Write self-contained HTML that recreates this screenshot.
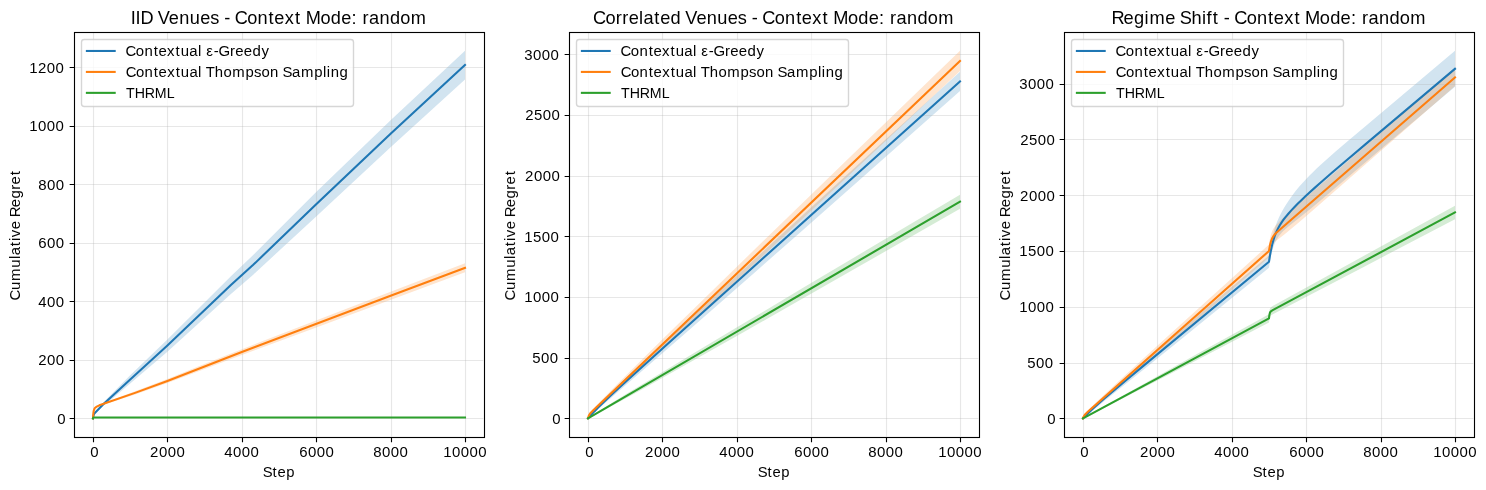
<!DOCTYPE html>
<html lang="en">
<head>
<meta charset="utf-8">
<title>Cumulative Regret - Context Mode: random</title>
<style>
html,body{margin:0;padding:0;background:#fff;}
body{width:1486px;height:490px;overflow:hidden;font-family:"Liberation Sans",sans-serif;}
svg{display:block;}
svg text{font-family:"Liberation Sans",sans-serif;fill:#000;}
</style>
</head>
<body>
<svg width="1486" height="490" viewBox="0 0 1486 490">
<rect width="1486" height="490" fill="#fff"/>
<g id="panel1">
<clipPath id="clip0"><rect x="74.4" y="32.33" width="409.2" height="404.39"/></clipPath>
<g clip-path="url(#clip0)">
<g fill-opacity="0.2" stroke="none">
<path fill="#1f77b4" d="M93 418.34 L93.37 415.91 L94.12 413.4 L96.72 410.1 L103.05 402.86 L111.6 393.96 L130.2 375.35 L167.4 339.38 L230.64 276.39 L252.96 255.29 L316.2 191.97 L390.6 120.32 L465 50.71 L465 79.38 L390.6 147.23 L316.2 216.54 L252.96 274.89 L230.64 294.15 L167.4 351.66 L130.2 383.54 L111.6 399.23 L103.05 406.11 L96.72 411.86 L94.12 413.92 L93.37 416.09 L93 418.34Z"/>
<path fill="#ff7f0e" d="M93 418.34 L93.37 412.93 L93.75 410.53 L94.49 408.26 L94.86 407.71 L96.72 406.19 L99.33 404.75 L105.28 402.44 L113.09 399.49 L135.04 391.36 L167.4 378.88 L201.26 365.31 L241.8 349.14 L258.92 342.52 L319.92 318.96 L390.6 291.74 L465 263.28 L465 272.34 L309.51 329.89 L241.8 354.88 L201.26 370.2 L167.4 382.93 L135.04 394.41 L113.46 401.47 L105.28 404.09 L99.33 405.93 L96.72 407.1 L94.86 408.35 L94.49 408.84 L93.75 410.94 L93.37 413.22 L93 418.34Z"/>
<path fill="#2ca02c" d="M93 418.34 L93.37 417.32 L465 417.32 L465 417.61 L93.37 417.61 L93 418.34Z"/>
</g>
<g stroke="#b0b0b0" stroke-opacity="0.3" stroke-width="1.111" fill="none"><path d="M93.5 32.33V436.72M167.5 32.33V436.72M242.5 32.33V436.72M316.5 32.33V436.72M391.5 32.33V436.72M465.5 32.33V436.72"/><path d="M74.4 418.5H483.6M74.4 360.5H483.6M74.4 301.5H483.6M74.4 243.5H483.6M74.4 184.5H483.6M74.4 126.5H483.6M74.4 67.5H483.6"/></g>
<g fill="none" stroke-width="2.083" stroke-linejoin="round" stroke-linecap="square">
<path stroke="#1f77b4" d="M93 418.34 L93.37 416 L94.12 413.66 L103.05 404.48 L130.2 379.44 L167.4 345.52 L230.64 285.27 L252.96 265.09 L316.2 204.26 L390.6 133.77 L465 65.05"/>
<path stroke="#ff7f0e" d="M93 418.34 L93.37 413.08 L93.75 410.74 L94.49 408.55 L94.86 408.03 L96.72 406.64 L99.33 405.34 L135.04 392.88 L167.4 380.91 L241.8 352.01 L390.6 295.8 L465 267.81"/>
<path stroke="#2ca02c" d="M93 418.34 L93.37 417.46 L465 417.46"/>
</g></g>
<path d="M93.5 437.5v4.86M167.5 437.5v4.86M242.5 437.5v4.86M316.5 437.5v4.86M391.5 437.5v4.86M465.5 437.5v4.86M74.5 418.5h-4.86M74.5 360.5h-4.86M74.5 301.5h-4.86M74.5 243.5h-4.86M74.5 184.5h-4.86M74.5 126.5h-4.86M74.5 67.5h-4.86" stroke="#000" stroke-width="1.111" fill="none"/>
<rect x="74.5" y="32.5" width="410" height="405" fill="none" stroke="#000" stroke-width="1.111" stroke-linejoin="miter"/>
<rect x="81.5" y="39.5" width="272" height="67" rx="2.78" fill="#fff" fill-opacity="0.8" stroke="#ccc" stroke-opacity="0.8" stroke-width="1.389"/>
<path d="M86.9 50.97H114.68" stroke="#1f77b4" stroke-width="2.083" stroke-linecap="square" fill="none"/>
<path d="M86.9 71.92H114.68" stroke="#ff7f0e" stroke-width="2.083" stroke-linecap="square" fill="none"/>
<path d="M86.9 92.86H114.68" stroke="#2ca02c" stroke-width="2.083" stroke-linecap="square" fill="none"/>
<g id="panel2">
<clipPath id="clip1"><rect x="569.4" y="32.33" width="409.2" height="404.39"/></clipPath>
<g clip-path="url(#clip1)">
<g fill-opacity="0.2" stroke="none">
<path fill="#1f77b4" d="M588 418.34 L588.37 417.48 L589.49 415.84 L591.35 413.43 L593.58 410.74 L595.81 408.17 L598.42 405.3 L601.39 402.13 L604.74 398.67 L611.81 391.61 L620.37 383.33 L631.53 372.76 L646.03 359.18 L668.73 338.13 L697 312.05 L729.74 281.96 L766.94 247.87 L854.36 168.03 L960 71.83 L960 91.01 L847.66 190.45 L799.3 233.15 L756.15 271.16 L715.97 306.46 L681.38 336.74 L656.08 358.78 L620.37 389.73 L610.69 398.16 L605.11 403.09 L600.28 407.44 L589.49 417.44 L588.37 418.34 L588 418.34Z"/>
<path fill="#ff7f0e" d="M588 418.34 L588.37 416.53 L588.75 415.34 L589.12 414.41 L589.49 413.65 L590.23 412.44 L590.98 411.43 L592.09 410.11 L593.58 408.46 L600.65 401.03 L611.44 390.04 L625.2 376.25 L642.31 359.28 L666.12 335.83 L694.4 308.14 L727.13 276.21 L764.33 240.04 L852.87 154.23 L960 50.71 L960 71.1 L879.28 146.95 L808.97 212.86 L748.34 269.54 L697.74 316.65 L657.2 354.17 L640.45 369.56 L626.32 382.47 L614.79 392.91 L605.11 401.55 L598.05 407.74 L590.98 413.76 L589.86 414.88 L589.12 415.9 L588.75 416.58 L588 418.34Z"/>
<path fill="#2ca02c" d="M588 418.34 L588.37 417.97 L589.86 416.88 L595.07 413.43 L603.25 408.24 L614.04 401.55 L627.81 393.1 L644.55 382.91 L686.58 357.54 L739.04 326.1 L802.28 288.36 L875.93 244.54 L960 194.66 L960 208.74 L875.93 256.77 L802.28 298.75 L739.04 334.67 L686.58 364.32 L644.55 387.91 L627.81 397.22 L614.04 404.81 L603.25 410.67 L595.07 415.02 L589.86 417.64 L588.37 418.28 L588 418.34Z"/>
</g>
<g stroke="#b0b0b0" stroke-opacity="0.3" stroke-width="1.111" fill="none"><path d="M588.5 32.33V436.72M662.5 32.33V436.72M737.5 32.33V436.72M811.5 32.33V436.72M886.5 32.33V436.72M960.5 32.33V436.72"/><path d="M569.4 418.5H978.6M569.4 358.5H978.6M569.4 297.5H978.6M569.4 236.5H978.6M569.4 176.5H978.6M569.4 115.5H978.6M569.4 54.5H978.6"/></g>
<g fill="none" stroke-width="2.083" stroke-linejoin="round" stroke-linecap="square">
<path stroke="#1f77b4" d="M588 418.34 L590.98 414.99 L594.33 411.4 L598.05 407.59 L602.51 403.2 L606.97 398.93 L612.55 393.71 L627.06 380.45 L665.01 346.29 L960 81.42"/>
<path stroke="#ff7f0e" d="M588 418.34 L588.37 416.99 L588.75 415.96 L589.12 415.16 L589.86 413.95 L590.61 413.01 L591.35 412.2 L593.58 410 L960 60.91"/>
<path stroke="#2ca02c" d="M588 418.34 L960 201.7"/>
</g></g>
<path d="M588.5 437.5v4.86M662.5 437.5v4.86M737.5 437.5v4.86M811.5 437.5v4.86M886.5 437.5v4.86M960.5 437.5v4.86M569.5 418.5h-4.86M569.5 358.5h-4.86M569.5 297.5h-4.86M569.5 236.5h-4.86M569.5 176.5h-4.86M569.5 115.5h-4.86M569.5 54.5h-4.86" stroke="#000" stroke-width="1.111" fill="none"/>
<rect x="569.5" y="32.5" width="410" height="405" fill="none" stroke="#000" stroke-width="1.111" stroke-linejoin="miter"/>
<rect x="576.5" y="39.5" width="272" height="67" rx="2.78" fill="#fff" fill-opacity="0.8" stroke="#ccc" stroke-opacity="0.8" stroke-width="1.389"/>
<path d="M581.9 50.97H609.68" stroke="#1f77b4" stroke-width="2.083" stroke-linecap="square" fill="none"/>
<path d="M581.9 71.92H609.68" stroke="#ff7f0e" stroke-width="2.083" stroke-linecap="square" fill="none"/>
<path d="M581.9 92.86H609.68" stroke="#2ca02c" stroke-width="2.083" stroke-linecap="square" fill="none"/>
<g id="panel3">
<clipPath id="clip2"><rect x="1064.4" y="32.33" width="409.2" height="404.39"/></clipPath>
<g clip-path="url(#clip2)">
<g fill-opacity="0.2" stroke="none">
<path fill="#1f77b4" d="M1083 418.34 L1083.37 417.5 L1083.75 416.96 L1084.86 415.54 L1085.98 414.22 L1089.33 410.55 L1093.79 406.02 L1098.25 401.72 L1103.83 396.55 L1110.16 390.85 L1117.97 383.96 L1127.64 375.56 L1139.92 364.99 L1173.03 336.73 L1216.55 299.84 L1269 255.56 L1269.75 250.54 L1270.86 244.09 L1271.98 238.68 L1273.1 234.08 L1274.21 230.11 L1275.7 225.54 L1277.19 221.6 L1279.05 217.3 L1280.16 214.96 L1281.28 212.77 L1283.51 208.72 L1286.12 204.41 L1289.09 199.89 L1292.44 195.21 L1295.79 190.86 L1299.51 186.35 L1303.23 182.14 L1306.2 178.93 L1309.55 175.48 L1312.9 172.16 L1316.62 168.6 L1320.71 164.8 L1325.18 160.76 L1335.59 151.61 L1347.87 141.08 L1365.72 125.95 L1455 50.71 L1455 86.86 L1368.7 159.58 L1316.62 203.69 L1310.3 208.95 L1304.34 213.81 L1288.72 226.18 L1285.74 228.68 L1283.51 230.73 L1282.02 232.23 L1280.54 233.9 L1279.05 235.79 L1277.93 237.42 L1276.82 239.28 L1276.07 240.68 L1274.96 243.08 L1274.21 244.92 L1273.47 247.01 L1272.72 249.38 L1271.98 252.09 L1271.24 255.2 L1270.12 260.8 L1269 267.83 L1221.39 306.59 L1180.84 339.47 L1151.45 363.18 L1104.95 400.54 L1095.28 408.49 L1084.86 417.31 L1083.75 418.17 L1083.37 418.34 L1083 418.34Z"/>
<path fill="#ff7f0e" d="M1083 418.34 L1083.37 416.81 L1083.75 415.83 L1084.12 415.05 L1084.86 413.84 L1085.61 412.87 L1086.35 412.02 L1088.95 409.33 L1093.79 404.61 L1100.11 398.58 L1107.93 391.25 L1119.46 380.54 L1133.59 367.51 L1168.56 335.56 L1213.58 294.71 L1269 244.62 L1269.38 242.01 L1269.75 239.79 L1270.12 237.91 L1270.86 234.89 L1271.24 233.67 L1271.98 231.66 L1272.35 230.81 L1273.1 229.35 L1273.84 228.12 L1274.58 227.04 L1275.7 225.61 L1276.82 224.33 L1278.3 222.74 L1280.16 220.86 L1284.63 216.57 L1289.84 211.76 L1296.53 205.75 L1304.72 198.54 L1315.13 189.47 L1455 68.68 L1455 86.08 L1337.82 188.49 L1309.18 213.44 L1298.76 222.4 L1290.95 228.99 L1284.63 234.16 L1277.19 240.03 L1275.33 241.62 L1274.21 242.72 L1273.1 244.08 L1272.35 245.23 L1271.98 245.91 L1271.24 247.58 L1270.49 249.83 L1270.12 251.25 L1269.75 252.94 L1269.38 254.94 L1269 257.34 L1229.94 291.42 L1195.72 321.2 L1166.33 346.67 L1141.41 368.17 L1121.32 385.37 L1105.69 398.59 L1094.53 407.85 L1085.61 414.99 L1084.86 415.68 L1084.12 416.53 L1083.75 417.08 L1083 418.34Z"/>
<path fill="#2ca02c" d="M1083 418.34 L1084.49 417.4 L1088.21 415.2 L1100.11 408.36 L1117.23 398.68 L1139.55 386.14 L1196.09 354.62 L1269 314.2 L1269.38 311.01 L1269.75 309.27 L1270.12 308.28 L1270.49 307.67 L1270.86 307.25 L1271.61 306.68 L1272.72 306.02 L1354.56 260.93 L1455 205.74 L1455 219.13 L1362.75 267.39 L1272.35 314.57 L1271.61 315 L1270.86 315.55 L1270.49 315.95 L1270.12 316.55 L1269.75 317.53 L1269.38 319.26 L1269 322.44 L1196.09 360.44 L1139.55 389.72 L1117.23 401.2 L1100.11 409.91 L1088.21 415.88 L1084.49 417.68 L1083 418.34Z"/>
</g>
<g stroke="#b0b0b0" stroke-opacity="0.3" stroke-width="1.111" fill="none"><path d="M1083.5 32.33V436.72M1157.5 32.33V436.72M1232.5 32.33V436.72M1306.5 32.33V436.72M1381.5 32.33V436.72M1455.5 32.33V436.72"/><path d="M1064.4 418.5H1473.6M1064.4 363.5H1473.6M1064.4 307.5H1473.6M1064.4 251.5H1473.6M1064.4 195.5H1473.6M1064.4 139.5H1473.6M1064.4 84.5H1473.6"/></g>
<g fill="none" stroke-width="2.083" stroke-linejoin="round" stroke-linecap="square">
<path stroke="#1f77b4" d="M1083 418.34 L1085.61 415.67 L1088.58 412.75 L1091.93 409.59 L1095.28 406.53 L1103.46 399.32 L1114.25 390.13 L1125.78 380.48 L1143.64 365.63 L1269 261.7 L1269.75 256.75 L1270.49 252.45 L1271.24 248.69 L1272.35 243.88 L1273.47 239.85 L1274.58 236.43 L1275.7 233.49 L1276.82 230.91 L1278.3 227.9 L1279.79 225.27 L1281.65 222.35 L1283.51 219.72 L1285.74 216.84 L1288.35 213.73 L1291.32 210.41 L1294.3 207.25 L1297.65 203.85 L1301.37 200.2 L1305.46 196.32 L1309.55 192.52 L1314.39 188.14 L1319.6 183.51 L1331.87 172.81 L1346.01 160.72 L1365.35 144.34 L1455 68.79"/>
<path stroke="#ff7f0e" d="M1083 418.34 L1083.37 417.28 L1083.75 416.45 L1084.49 415.24 L1085.61 413.93 L1087.84 411.83 L1269 250.98 L1269.38 248.48 L1269.75 246.37 L1270.12 244.58 L1270.86 241.75 L1271.24 240.63 L1271.98 238.78 L1272.35 238.02 L1273.1 236.72 L1274.21 235.14 L1274.96 234.26 L1276.07 233.07 L1278.3 230.94 L1286.86 223.43 L1455 77.38"/>
<path stroke="#2ca02c" d="M1083 418.34 L1269 318.32 L1269.38 315.13 L1269.75 313.4 L1270.12 312.41 L1270.49 311.81 L1270.86 311.4 L1271.61 310.84 L1272.72 310.19 L1455 212.44"/>
</g></g>
<path d="M1083.5 437.5v4.86M1157.5 437.5v4.86M1232.5 437.5v4.86M1306.5 437.5v4.86M1381.5 437.5v4.86M1455.5 437.5v4.86M1064.5 418.5h-4.86M1064.5 363.5h-4.86M1064.5 307.5h-4.86M1064.5 251.5h-4.86M1064.5 195.5h-4.86M1064.5 139.5h-4.86M1064.5 84.5h-4.86" stroke="#000" stroke-width="1.111" fill="none"/>
<rect x="1064.5" y="32.5" width="410" height="405" fill="none" stroke="#000" stroke-width="1.111" stroke-linejoin="miter"/>
<rect x="1071.5" y="39.5" width="272" height="67" rx="2.78" fill="#fff" fill-opacity="0.8" stroke="#ccc" stroke-opacity="0.8" stroke-width="1.389"/>
<path d="M1076.9 50.97H1104.68" stroke="#1f77b4" stroke-width="2.083" stroke-linecap="square" fill="none"/>
<path d="M1076.9 71.92H1104.68" stroke="#ff7f0e" stroke-width="2.083" stroke-linecap="square" fill="none"/>
<path d="M1076.9 92.86H1104.68" stroke="#2ca02c" stroke-width="2.083" stroke-linecap="square" fill="none"/>
<g id="labels" opacity="0.9999">
<text transform="translate(130.8 23.5) scale(1.0147 1)" font-size="17.9" x="-0.07 4.76 9.52 22.4 26.51 37.53 47.76 58.15 68.38 78.19 87.05 92.11 98.17 102.52 114.74 124.94 135.83 141.47 151.74 161.78 167.6 172.31 186.87 197.08 207.32 217.6 222.97 228.45 234.84 245.05 255.44 265.66 275.98">IID Venues - Context Mode: random</text>
<text transform="translate(263.14 476.5) scale(1.0355 1)" font-size="14.3" x="-0.5 9.15 13.92 22.31">Step</text>
<text transform="translate(20 299.94) rotate(-90) scale(1.0443 1)" font-size="14.3" x="-0.51 9.52 18.23 30.89 39.32 42.86 51.52 56.37 60.16 67.78 75.96 79.23 88.81 97.12 105.54 110.64 119.43">Cumulative Regret</text>
<text transform="translate(89.93 456.5) scale(1.0468 1)" font-size="14.3" x="0.22">0</text>
<text transform="translate(149.8 456.5) scale(1.0468 1)" font-size="14.3" x="0.25 8.69 17.12 25.4">2000</text>
<text transform="translate(223.95 456.5) scale(1.0468 1)" font-size="14.3" x="0.25 8.69 17.12 25.4">4000</text>
<text transform="translate(298.94 456.5) scale(1.0486 1)" font-size="14.3" x="0.25 8.67 17.08 25.41">6000</text>
<text transform="translate(372.94 456.5) scale(1.0486 1)" font-size="14.3" x="0.25 8.67 17.08 25.41">8000</text>
<text transform="translate(442.87 456.5) scale(1.0483 1)" font-size="14.3" x="0.25 8.67 17.09 25.51 33.81">10000</text>
<text transform="translate(56.98 423.59) scale(1.0468 1)" font-size="14.3" x="0.22">0</text>
<text transform="translate(37.88 364.5) scale(1.0468 1)" font-size="14.3" x="0.25 8.69 17.01">200</text>
<text transform="translate(37.88 306.51) scale(1.0468 1)" font-size="14.3" x="0.25 8.69 17.01">400</text>
<text transform="translate(37.96 247.51) scale(1.0492 1)" font-size="14.3" x="0.24 8.66 17.02">600</text>
<text transform="translate(37.96 189.52) scale(1.0492 1)" font-size="14.3" x="0.24 8.66 17.02">800</text>
<text transform="translate(28.96 130.53) scale(1.0486 1)" font-size="14.3" x="0.25 8.67 17.08 25.41">1000</text>
<text transform="translate(28.96 72.54) scale(1.0486 1)" font-size="14.3" x="0.25 8.67 17.08 25.41">1200</text>
<text transform="translate(126.04 55.58) scale(1.0466 1)" font-size="14.3" x="-0.52 9.35 17.61 26.39 30.96 39.24 47.35 52.17 60.43 68.71 72.26 76.76 83.77 88.37 99.28 104.38 112.53 120.82 129.43">Contextual ε-Greedy</text>
<text transform="translate(126.14 76.53) scale(1.0429 1)" font-size="14.3" x="-0.5 9.4 17.68 26.49 31.09 39.4 47.52 52.36 60.66 68.96 72.53 76.33 85 93.29 101.86 114.54 122.63 129.76 138.05 146.36 149.92 159.01 167.6 180.27 188.72 192.42 196.1 204.67">Contextual Thompson Sampling</text>
<text transform="translate(126.19 97.52) scale(0.9924 1)" font-size="14.3" x="-0.08 8.65 18.77 28.87 40.76">THRML</text>
<text transform="translate(593.77 23.5) scale(1.0170 1)" font-size="17.9" x="-0.75 11.44 21.68 28.09 34.3 44.58 48.88 59.58 65.33 75.54 85.82 89.91 100.91 111.12 121.48 131.69 141.47 150.32 155.37 161.41 165.74 177.94 188.12 198.99 204.61 214.86 224.88 230.69 235.37 249.9 260.09 270.31 280.58 285.93 291.39 297.77 307.96 318.33 328.51 338.72">Correlated Venues - Context Mode: random</text>
<text transform="translate(758.14 476.5) scale(1.0355 1)" font-size="14.3" x="-0.5 9.15 13.92 22.31">Step</text>
<text transform="translate(515.05 299.94) rotate(-90) scale(1.0443 1)" font-size="14.3" x="-0.51 9.52 18.23 30.89 39.32 42.86 51.52 56.37 60.16 67.78 75.96 79.23 88.81 97.12 105.54 110.64 119.43">Cumulative Regret</text>
<text transform="translate(584.93 456.5) scale(1.0468 1)" font-size="14.3" x="0.22">0</text>
<text transform="translate(644.8 456.5) scale(1.0468 1)" font-size="14.3" x="0.25 8.69 17.12 25.4">2000</text>
<text transform="translate(718.95 456.5) scale(1.0468 1)" font-size="14.3" x="0.25 8.69 17.12 25.4">4000</text>
<text transform="translate(793.94 456.5) scale(1.0486 1)" font-size="14.3" x="0.25 8.67 17.08 25.41">6000</text>
<text transform="translate(867.94 456.5) scale(1.0486 1)" font-size="14.3" x="0.25 8.67 17.08 25.41">8000</text>
<text transform="translate(937.87 456.5) scale(1.0483 1)" font-size="14.3" x="0.25 8.67 17.09 25.51 33.81">10000</text>
<text transform="translate(551.98 423.59) scale(1.0468 1)" font-size="14.3" x="0.22">0</text>
<text transform="translate(531.88 362.56) scale(1.0468 1)" font-size="14.3" x="0.25 8.69 17.01">500</text>
<text transform="translate(523.96 301.52) scale(1.0486 1)" font-size="14.3" x="0.25 8.67 17.08 25.41">1000</text>
<text transform="translate(523.96 241.54) scale(1.0486 1)" font-size="14.3" x="0.25 8.67 17.08 25.41">1500</text>
<text transform="translate(524.83 180.5) scale(1.0468 1)" font-size="14.3" x="0.25 8.69 17.12 25.4">2000</text>
<text transform="translate(524.88 119.57) scale(1.0468 1)" font-size="14.3" x="0.25 8.69 17.12 25.4">2500</text>
<text transform="translate(523.88 59.53) scale(1.0468 1)" font-size="14.3" x="0.25 8.69 17.12 25.4">3000</text>
<text transform="translate(621.04 55.58) scale(1.0466 1)" font-size="14.3" x="-0.52 9.35 17.61 26.39 30.96 39.24 47.35 52.17 60.43 68.71 72.26 76.76 83.77 88.37 99.28 104.38 112.53 120.82 129.43">Contextual ε-Greedy</text>
<text transform="translate(621.14 76.53) scale(1.0429 1)" font-size="14.3" x="-0.5 9.4 17.68 26.49 31.09 39.4 47.52 52.36 60.66 68.96 72.53 76.33 85 93.29 101.86 114.54 122.63 129.76 138.05 146.36 149.92 159.01 167.6 180.27 188.72 192.42 196.1 204.67">Contextual Thompson Sampling</text>
<text transform="translate(621.19 97.52) scale(0.9924 1)" font-size="14.3" x="-0.08 8.65 18.77 28.87 40.76">THRML</text>
<text transform="translate(1112.75 23.5) scale(1.0194 1)" font-size="17.9" x="-1.16 10.64 20.83 31.26 36.01 51.44 61.54 65.83 77.16 87.58 92.1 98.04 103.83 108.87 114.9 119.21 131.38 141.54 152.39 157.99 168.21 178.22 184.01 188.68 203.17 213.34 223.53 233.78 239.12 244.57 250.93 261.09 271.44 281.6 291.85">Regime Shift - Context Mode: random</text>
<text transform="translate(1253.14 476.5) scale(1.0355 1)" font-size="14.3" x="-0.5 9.15 13.92 22.31">Step</text>
<text transform="translate(1010.05 299.94) rotate(-90) scale(1.0443 1)" font-size="14.3" x="-0.51 9.52 18.23 30.89 39.32 42.86 51.52 56.37 60.16 67.78 75.96 79.23 88.81 97.12 105.54 110.64 119.43">Cumulative Regret</text>
<text transform="translate(1079.93 456.5) scale(1.0468 1)" font-size="14.3" x="0.22">0</text>
<text transform="translate(1139.8 456.5) scale(1.0468 1)" font-size="14.3" x="0.25 8.69 17.12 25.4">2000</text>
<text transform="translate(1213.95 456.5) scale(1.0468 1)" font-size="14.3" x="0.25 8.69 17.12 25.4">4000</text>
<text transform="translate(1288.94 456.5) scale(1.0486 1)" font-size="14.3" x="0.25 8.67 17.08 25.41">6000</text>
<text transform="translate(1362.94 456.5) scale(1.0486 1)" font-size="14.3" x="0.25 8.67 17.08 25.41">8000</text>
<text transform="translate(1432.87 456.5) scale(1.0483 1)" font-size="14.3" x="0.25 8.67 17.09 25.51 33.81">10000</text>
<text transform="translate(1046.98 423.59) scale(1.0468 1)" font-size="14.3" x="0.22">0</text>
<text transform="translate(1026.88 367.56) scale(1.0468 1)" font-size="14.3" x="0.25 8.69 17.01">500</text>
<text transform="translate(1018.96 311.52) scale(1.0486 1)" font-size="14.3" x="0.25 8.67 17.08 25.41">1000</text>
<text transform="translate(1018.96 255.53) scale(1.0486 1)" font-size="14.3" x="0.25 8.67 17.08 25.41">1500</text>
<text transform="translate(1019.83 200.5) scale(1.0468 1)" font-size="14.3" x="0.25 8.69 17.12 25.4">2000</text>
<text transform="translate(1019.88 144.56) scale(1.0468 1)" font-size="14.3" x="0.25 8.69 17.12 25.4">2500</text>
<text transform="translate(1018.88 88.53) scale(1.0468 1)" font-size="14.3" x="0.25 8.69 17.12 25.4">3000</text>
<text transform="translate(1116.04 55.58) scale(1.0466 1)" font-size="14.3" x="-0.52 9.35 17.61 26.39 30.96 39.24 47.35 52.17 60.43 68.71 72.26 76.76 83.77 88.37 99.28 104.38 112.53 120.82 129.43">Contextual ε-Greedy</text>
<text transform="translate(1116.14 76.53) scale(1.0429 1)" font-size="14.3" x="-0.5 9.4 17.68 26.49 31.09 39.4 47.52 52.36 60.66 68.96 72.53 76.33 85 93.29 101.86 114.54 122.63 129.76 138.05 146.36 149.92 159.01 167.6 180.27 188.72 192.42 196.1 204.67">Contextual Thompson Sampling</text>
<text transform="translate(1116.19 97.52) scale(0.9924 1)" font-size="14.3" x="-0.08 8.65 18.77 28.87 40.76">THRML</text>
</g>
</svg>
</body>
</html>
